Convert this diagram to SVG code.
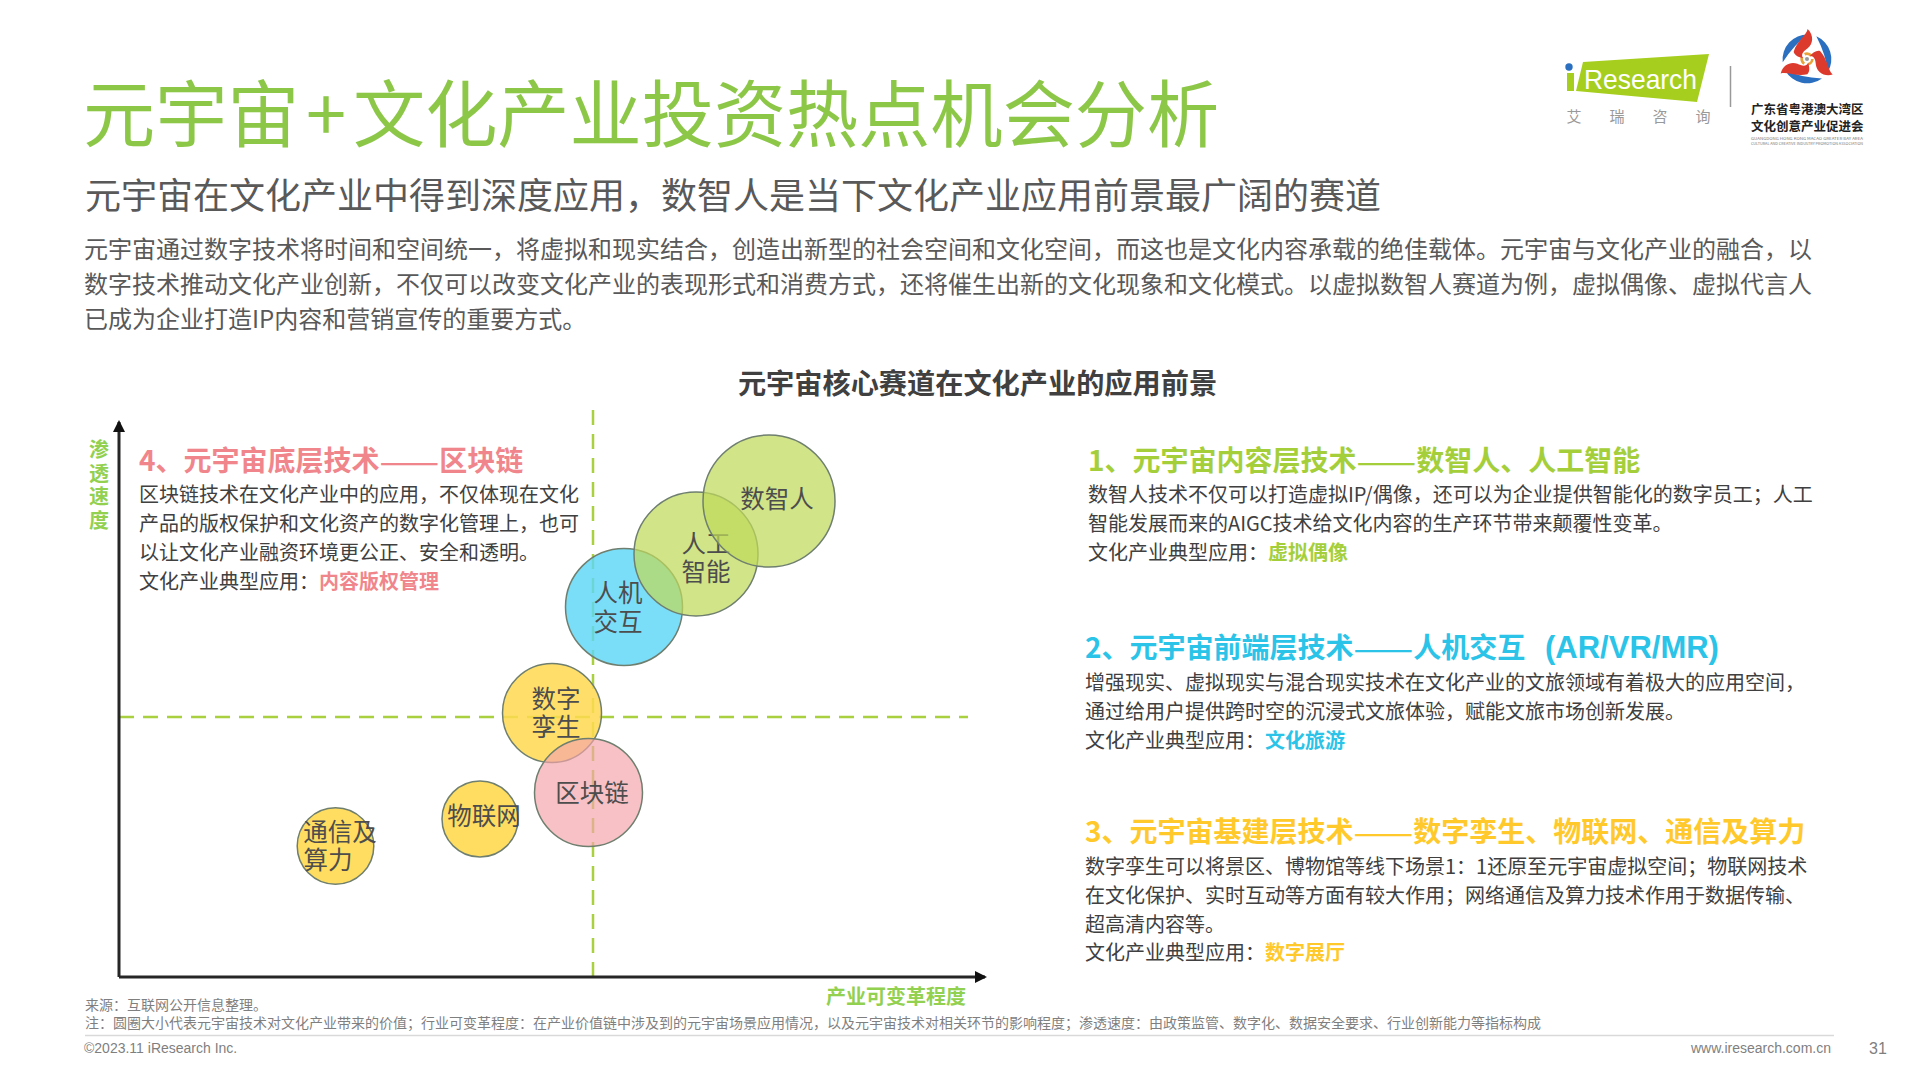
<svg xmlns="http://www.w3.org/2000/svg" xmlns:xlink="http://www.w3.org/1999/xlink" width="1920" height="1080" viewBox="0 0 1920 1080">
<style>
text{font-family:"Noto Sans CJK SC","Noto Sans",sans-serif}
.title{font-size:72.200px;fill:#8CC748;font-weight:400}
.sub{font-size:36px;fill:#595959}
.para{font-size:24px;fill:#595959}
.h{font-size:28px;font-weight:700}
.dd{font-size:35.600px;font-weight:400}
.b{font-size:20px;fill:#404040}
.k{font-weight:700}
.green{fill:#A5CF3A}.cyan{fill:#2BC4E8}.yellow{fill:#FFC92B}.pink{fill:#F0868C}
.axl{font-size:20px;font-weight:700;fill:#92D050;text-anchor:middle}
.bub{stroke:#6F7F6F;stroke-width:1.500}
.bl{font-size:24.500px;fill:#4D4D4D;text-anchor:middle}
.foot{font-size:14px;fill:#7F7F7F}
.lat{font-family:"Liberation Sans",Arial,sans-serif;fill:#7F7F7F}
.dash{stroke:#A9D13F;stroke-width:2.500;stroke-dasharray:15 9;fill:none}
.axis{stroke:#262626;stroke-width:3;fill:none;marker-end:url(#arr)}
</style>
<defs>
<marker id="arr" markerUnits="userSpaceOnUse" markerWidth="14" markerHeight="14" refX="10" refY="6" orient="auto"><path d="M0 0L12 6L0 12Z" fill="#111"/></marker>
<path id="petal" d="M2-90C-2-70-30-55-40-22C-38-12-25-5-12-3C-20-15-8-25 2-32C18-45 22-70 2-90Z" fill="#DD3A2E"/>
<path id="arc" d="M28-68A75 75 0 0 1 62 40Q58-10 28-68Z" fill="#2A6FC0"/>
</defs>
<rect width="1920" height="1080" fill="#fff"/>

<g id="header">
<text class="title" y="141"><tspan x="83">元宇宙</tspan><tspan x="306">+</tspan><tspan x="353">文化产业投资热点机会分析</tspan></text>
<text class="sub" x="85" y="209">元宇宙在文化产业中得到深度应用，数智人是当下文化产业应用前景最广阔的赛道</text>
<text class="para" x="84" y="258">元宇宙通过数字技术将时间和空间统一，将虚拟和现实结合，创造出新型的社会空间和文化空间，而这也是文化内容承载的绝佳载体。元宇宙与文化产业的融合，以</text>
<text class="para" x="84" y="293">数字技术推动文化产业创新，不仅可以改变文化产业的表现形式和消费方式，还将催生出新的文化现象和文化模式。以虚拟数智人赛道为例，虚拟偶像、虚拟代言人</text>
<text class="para" x="84" y="328">已成为企业打造IP内容和营销宣传的重要方式。</text>
</g>

<g id="logo-iresearch">
<path d="M1583 62L1709 54L1697 102L1576 91Z" fill="#A6CE1E"/>
<rect x="1567" y="73" width="7" height="18" fill="#A6CE1E"/>
<circle cx="1569" cy="67" r="3.700" fill="#2A6FC0"/>
<text x="1584" y="89" font-size="28" fill="#fff" textLength="113" lengthAdjust="spacingAndGlyphs" style="font-family:'Liberation Sans',Arial,sans-serif">Research</text>
<g font-size="15" fill="#999" text-anchor="middle"><text x="1574" y="122">艾</text><text x="1617" y="122">瑞</text><text x="1660" y="122">咨</text><text x="1703" y="122">询</text></g>
<line x1="1730.500" y1="66" x2="1730.500" y2="107" stroke="#999" stroke-width="1.500"/>
</g>
<g id="logo-association">
<g transform="translate(1807,59) scale(.3333)">
<circle r="16" fill="none" stroke="#E8A33A" stroke-width="8" stroke-dasharray="22 11"/>
<circle r="6" fill="#999"/>
<use xlink:href="#arc"/><use xlink:href="#arc" transform="rotate(120)"/><use xlink:href="#arc" transform="rotate(240)"/>
<use xlink:href="#petal"/><use xlink:href="#petal" transform="rotate(120)"/><use xlink:href="#petal" transform="rotate(240)"/>
</g>
<g font-size="12.500" font-weight="700" fill="#222"><text x="1751" y="114">广东省粤港澳大湾区</text><text x="1751" y="131">文化创意产业促进会</text></g>
<g font-size="4" fill="#777" style="font-family:'Liberation Sans',Arial,sans-serif"><text x="1751" y="140" textLength="112" lengthAdjust="spacingAndGlyphs">GUANGDONG HONG KONG MACAO GREATER BAY AREA</text><text x="1751" y="145" textLength="112" lengthAdjust="spacingAndGlyphs">CULTURAL AND CREATIVE INDUSTRY PROMOTION ASSOCIATION</text></g>
</g>

<text id="chart-title" x="977.500" y="394" font-size="28.200" font-weight="700" fill="#404040" text-anchor="middle">元宇宙核心赛道在文化产业的应用前景</text>

<g id="connectors">
<line class="dash" x1="593" y1="410" x2="593" y2="977"/>
<line class="dash" x1="119" y1="717" x2="968" y2="717"/>
<line class="axis" x1="119" y1="977" x2="119" y2="422"/>
<line class="axis" x1="119" y1="977" x2="985" y2="977"/>
</g>

<g id="axis-labels">
<text class="axl" x="99" y="457">渗</text><text class="axl" x="99" y="481">透</text><text class="axl" x="99" y="504">速</text><text class="axl" x="99" y="528">度</text>
<text class="axl" x="896" y="1004">产业可变革程度</text>
</g>

<g id="node-renji"><circle class="bub" cx="624" cy="607" r="58.500" fill="#5AD6F7" fill-opacity=".8"/><text class="bl" x="618" y="602">人机</text><text class="bl" x="618" y="631">交互</text></g>
<g id="node-rengong"><circle class="bub" cx="696" cy="554" r="62" fill="#BFD95A" fill-opacity=".72"/><text class="bl" x="706" y="553">人工</text><text class="bl" x="706" y="581">智能</text></g>
<g id="node-shuzhiren"><circle class="bub" cx="769" cy="501" r="66" fill="#BFD95A" fill-opacity=".72"/><text class="bl" x="777" y="508">数智人</text></g>
<g id="node-luansheng"><circle class="bub" cx="552" cy="713" r="49.500" fill="#FFD94F" fill-opacity=".85"/><text class="bl" x="556" y="708">数字</text><text class="bl" x="556" y="736">孪生</text></g>
<g id="node-qukuailian"><circle class="bub" cx="588.500" cy="792.500" r="54" fill="#F4A4AA" fill-opacity=".68"/><text class="bl" x="592" y="802">区块链</text></g>
<g id="node-wulianwang"><circle class="bub" cx="480" cy="819" r="38" fill="#FFD94F" fill-opacity=".9"/><text class="bl" x="484" y="825">物联网</text></g>
<g id="node-tongxin"><circle class="bub" cx="335.500" cy="846" r="38.300" fill="#FFD94F" fill-opacity=".9"/><text class="bl" x="340" y="841">通信及</text><text class="bl" x="328" y="869">算力</text></g>

<g id="block-4">
<text class="h pink" x="139" y="471">4、元宇宙底层技术<tspan class="dd" dy="3">——</tspan><tspan dy="-3">区块链</tspan></text>
<text class="b" x="139" y="502">区块链技术在文化产业中的应用，不仅体现在文化</text>
<text class="b" x="139" y="531">产品的版权保护和文化资产的数字化管理上，也可</text>
<text class="b" x="139" y="560">以让文化产业融资环境更公正、安全和透明。</text>
<text class="b" x="139" y="589">文化产业典型应用：<tspan class="k pink">内容版权管理</tspan></text>
</g>
<g id="block-1">
<text class="h green" x="1088" y="471">1、元宇宙内容层技术<tspan class="dd" dy="3">——</tspan><tspan dy="-3">数智人、人工智能</tspan></text>
<text class="b" x="1088" y="502">数智人技术不仅可以打造虚拟IP/偶像，还可以为企业提供智能化的数字员工；人工</text>
<text class="b" x="1088" y="531">智能发展而来的AIGC技术给文化内容的生产环节带来颠覆性变革。</text>
<text class="b" x="1088" y="560">文化产业典型应用：<tspan class="k green">虚拟偶像</tspan></text>
</g>
<g id="block-2">
<text class="h cyan" x="1085" y="658">2、元宇宙前端层技术<tspan class="dd" dy="3">——</tspan><tspan dy="-3">人机交互</tspan><tspan x="1545" font-size="31" style="font-family:'Liberation Sans',Arial,sans-serif">(AR/VR/MR)</tspan></text>
<text class="b" x="1085" y="690">增强现实、虚拟现实与混合现实技术在文化产业的文旅领域有着极大的应用空间，</text>
<text class="b" x="1085" y="719">通过给用户提供跨时空的沉浸式文旅体验，赋能文旅市场创新发展。</text>
<text class="b" x="1085" y="748">文化产业典型应用：<tspan class="k cyan">文化旅游</tspan></text>
</g>
<g id="block-3">
<text class="h yellow" x="1085" y="842">3、元宇宙基建层技术<tspan class="dd" dy="3">——</tspan><tspan dy="-3">数字孪生、物联网、通信及算力</tspan></text>
<text class="b" x="1085" y="874">数字孪生可以将景区、博物馆等线下场景1：1还原至元宇宙虚拟空间；物联网技术</text>
<text class="b" x="1085" y="903">在文化保护、实时互动等方面有较大作用；网络通信及算力技术作用于数据传输、</text>
<text class="b" x="1085" y="932">超高清内容等。</text>
<text class="b" x="1085" y="960">文化产业典型应用：<tspan class="k yellow">数字展厅</tspan></text>
</g>

<g id="footer">
<text class="foot" x="85" y="1010">来源：互联网公开信息整理。</text>
<text class="foot" x="85" y="1028">注：圆圈大小代表元宇宙技术对文化产业带来的价值；行业可变革程度：在产业价值链中涉及到的元宇宙场景应用情况，以及元宇宙技术对相关环节的影响程度；渗透速度：由政策监管、数字化、数据安全要求、行业创新能力等指标构成</text>
<line x1="85" y1="1035.500" x2="1834" y2="1035.500" stroke="#D9D9D9" stroke-width="1.500"/>
<text class="lat" x="84" y="1053" font-size="14">©2023.11 iResearch Inc.</text>
<text class="lat" x="1831" y="1053" font-size="14" text-anchor="end">www.iresearch.com.cn</text>
<text class="lat" x="1869" y="1054" font-size="16">31</text>
</g>
</svg>
